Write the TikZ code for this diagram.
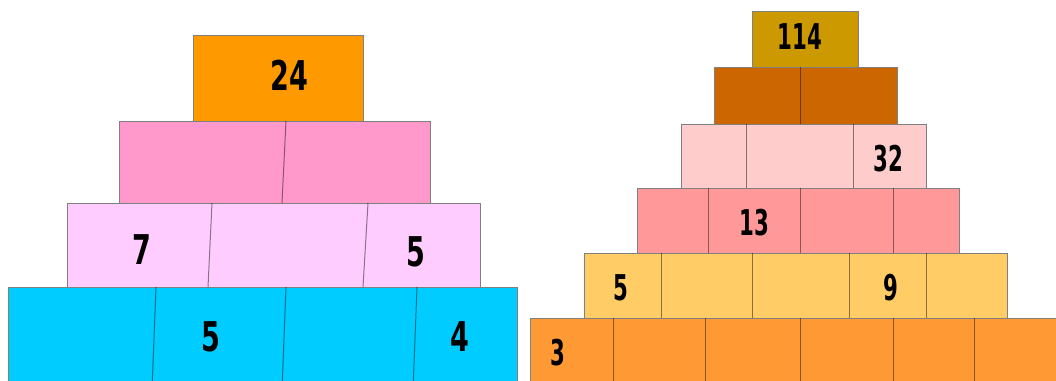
\documentclass[tikz,border=0pt]{standalone}
\usepackage{fontspec}
\newfontfamily\numL[FakeStretch=0.66]{DejaVu Sans}
\newfontfamily\numR[FakeStretch=0.6]{DejaVu Sans}
\definecolor{cOrange}{HTML}{FF9900}
\definecolor{cPink}{HTML}{FF99CC}
\definecolor{cLilac}{HTML}{FFCCFF}
\definecolor{cCyan}{HTML}{00CCFF}
\definecolor{cGold}{HTML}{CC9900}
\definecolor{cBrown}{HTML}{CC6600}
\definecolor{cRose}{HTML}{FFCCCC}
\definecolor{cSalmon}{HTML}{FF9999}
\definecolor{cSand}{HTML}{FFCC66}
\definecolor{cTang}{HTML}{FF9933}
\tikzset{
  brick/.style={draw=black!50, line width=1pt},
  seam/.style={draw=black, draw opacity=0.45, line width=1pt},
  numl/.style={inner sep=0pt, font=\numL\bfseries\fontsize{41}{41}\selectfont},
  numr/.style={inner sep=0pt, font=\numR\bfseries\fontsize{35.5}{35.5}\selectfont},
}
\begin{document}
\begin{tikzpicture}[x=1pt,y=-1pt]
\useasboundingbox (0,0) rectangle (1056,380);
\clip (0,0) rectangle (1056,380);
\fill[white] (0,0) rectangle (1056,380);
% ---------- left pyramid ----------
\filldraw[brick, fill=cCyan]   (8,287) rectangle (517,390);
\filldraw[brick, fill=cLilac]  (67,203) rectangle (480,287);
\filldraw[brick, fill=cPink]   (119,121) rectangle (430,203);
\filldraw[brick, fill=cOrange] (193,35) rectangle (363,121);
\draw[seam] (286,121) -- (282,203);
\draw[seam] (212,203) -- (208,287);
\draw[seam] (368,203) -- (363,287);
\draw[seam] (156,287) -- (152,390);
\draw[seam] (286,287) -- (282,390);
\draw[seam] (417,287) -- (413,390);
\node[numl] (l24) at (289,75) {24};
\node[numl] (l7)  at (142,250) {7};
\node[numl] (l5a) at (416,252) {5};
\node[numl] (l5b) at (211,337) {5};
\node[numl] (l4)  at (460,337) {4};
% ---------- right pyramid ----------
\filldraw[brick, fill=cTang]   (530,318) rectangle (1070,390);
\filldraw[brick, fill=cSand]   (584,253) rectangle (1007,318);
\filldraw[brick, fill=cSalmon] (637,188) rectangle (959,253);
\filldraw[brick, fill=cRose]   (681,124) rectangle (926,188);
\filldraw[brick, fill=cBrown]  (714,67) rectangle (897,124);
\filldraw[brick, fill=cGold]   (752,11) rectangle (858,67);
\draw[seam] (800,67) -- (800,124);
\foreach \x in {746,853} \draw[seam] (\x,124) -- (\x,188);
\foreach \x in {708,800,893} \draw[seam] (\x,188) -- (\x,253);
\foreach \x in {661,752,849,926} \draw[seam] (\x,253) -- (\x,318);
\foreach \x in {613,705,800,893,974} \draw[seam] (\x,318) -- (\x,390);
\node[numr] (r114) at (800,37) {114};
\node[numr] (r32)  at (888,159) {32};
\node[numr] (r13)  at (754,223) {13};
\node[numr] (r5)   at (621,288) {5};
\node[numr] (r9)   at (891,288) {9};
\node[numr] (r3)   at (558,353) {3};
\end{tikzpicture}
\end{document}
